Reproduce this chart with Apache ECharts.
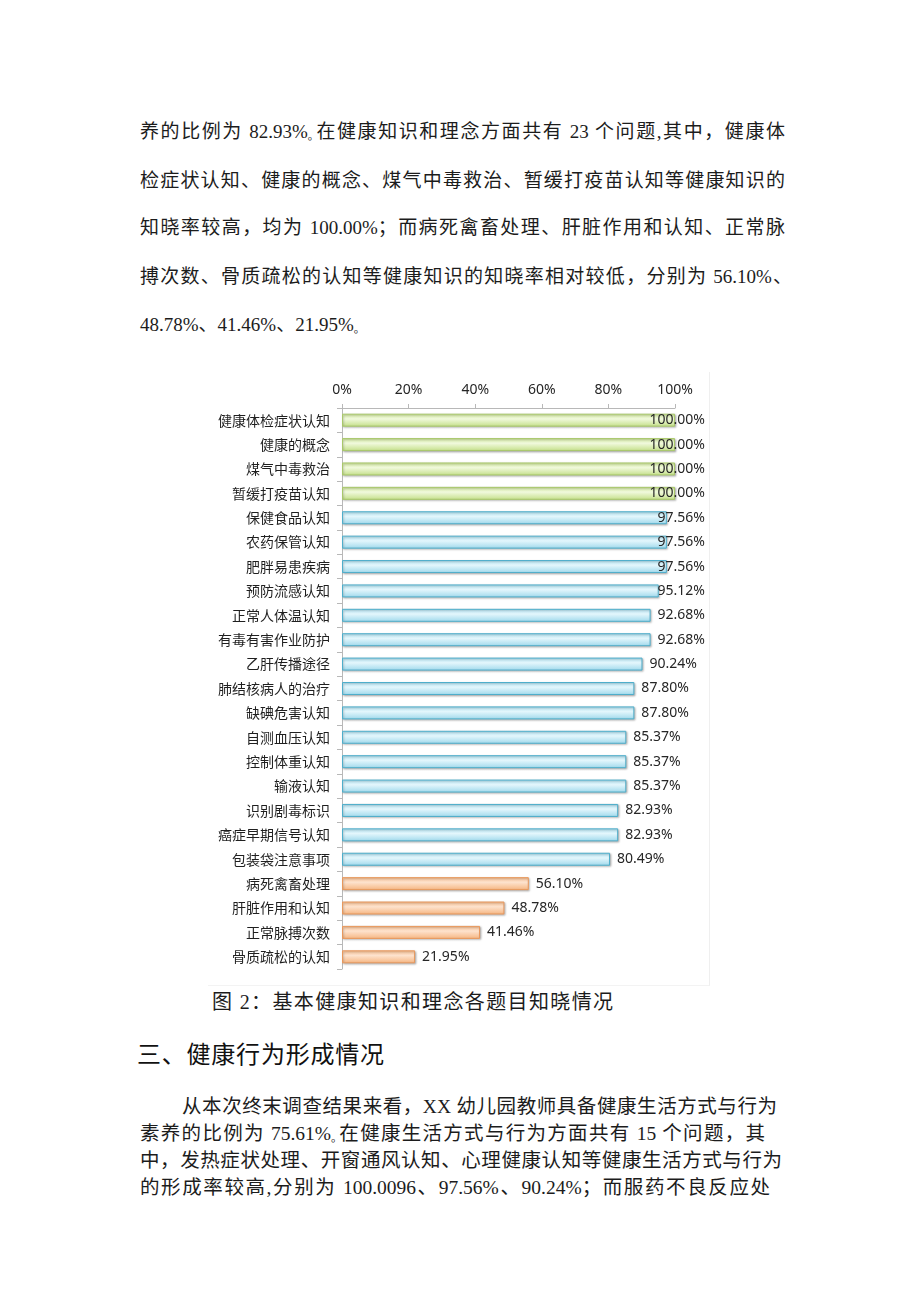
<!DOCTYPE html>
<html>
<head>
<meta charset="utf-8">
<script src="https://cdn.jsdelivr.net/npm/echarts@6/dist/echarts.min.js"></script>
<style>
  html, body { margin: 0; padding: 0; background: #ffffff; }
  body { width: 920px; height: 1301px; position: relative; overflow: hidden; }
  .ln {
    position: absolute; white-space: nowrap; color: #1c1c1c;
    font-family: "Liberation Serif", "Noto Sans CJK SC", serif;
    font-size: 19px; line-height: 28px; height: 28px;
    text-align: justify; text-align-last: justify;
  }
  .p2 { font-size: 19.5px; }
  .dot { font-size: 11px; display: inline-block; width: 7px; overflow: visible; vertical-align: -2px; }
  .head {
    position: absolute; left: 137px; top: 1037px; width: 247px; height: 32px; line-height: 32px;
    font-family: "Noto Sans CJK SC", sans-serif; font-size: 24px; color: #111;
    text-align: justify; text-align-last: justify; white-space: nowrap;
  }
  #chart { position: absolute; left: 208px; top: 372px; width: 502px; height: 614px;
           box-sizing: border-box; border-right: 1px solid #efefef; border-bottom: 1px solid #f3f3f3; }
</style>
</head>
<body>
<div class="ln" style="left:140px;top:118px;width:645px;">养的比例为 82.93%<span class="dot">。</span>在健康知识和理念方面共有 23 个问题,其中，健康体</div>
<div class="ln" style="left:140px;top:167px;width:645px;">检症状认知、健康的概念、煤气中毒救治、暂缓打疫苗认知等健康知识的</div>
<div class="ln" style="left:140px;top:214px;width:645px;">知晓率较高，均为 100.00%；而病死禽畜处理、肝脏作用和认知、正常脉</div>
<div class="ln" style="left:140px;top:263px;width:652px;">搏次数、骨质疏松的认知等健康知识的知晓率相对较低，分别为 56.10%、</div>
<div class="ln" style="left:140px;top:311px;text-align:left;text-align-last:left;">48.78%、41.46%、21.95%<span class="dot">。</span></div>

<div id="chart"></div>

<div class="ln" style="left:212px;top:988px;width:401px;font-size:20px;">图 2：基本健康知识和理念各题目知晓情况</div>

<div class="head">三、健康行为形成情况</div>

<div class="ln p2" style="left:182px;top:1093px;width:595px;">从本次终末调查结果来看，XX 幼儿园教师具备健康生活方式与行为</div>
<div class="ln p2" style="left:140px;top:1120px;width:625px;">素养的比例为 75.61%<span class="dot">。</span>在健康生活方式与行为方面共有 15 个问题，其</div>
<div class="ln p2" style="left:140px;top:1147px;width:642px;">中，发热症状处理、开窗通风认知、心理健康认知等健康生活方式与行为</div>
<div class="ln p2" style="left:140px;top:1174px;width:630px;">的形成率较高,分别为 100.0096、97.56%、90.24%；而服药不良反应处</div>

<script>
// ---- data ----
var categories = ['健康体检症状认知','健康的概念','煤气中毒救治','暂缓打疫苗认知','保健食品认知','农药保管认知','肥胖易患疾病','预防流感认知','正常人体温认知','有毒有害作业防护','乙肝传播途径','肺结核病人的治疗','缺碘危害认知','自测血压认知','控制体重认知','输液认知','识别剧毒标识','癌症早期信号认知','包装袋注意事项','病死禽畜处理','肝脏作用和认知','正常脉搏次数','骨质疏松的认知'];
var values = [100.00,100.00,100.00,100.00,97.56,97.56,97.56,95.12,92.68,92.68,90.24,87.80,87.80,85.37,85.37,85.37,82.93,82.93,80.49,56.10,48.78,41.46,21.95];
var groups = ['high','high','high','high','mid','mid','mid','mid','mid','mid','mid','mid','mid','mid','mid','mid','mid','mid','mid','low','low','low','low'];
var xTicks = [0, 20, 40, 60, 80, 100];

// ---- styles ----
function grad(a, b, c) {
  return new echarts.graphic.LinearGradient(0, 0, 0, 1, [
    {offset: 0, color: a}, {offset: 0.4, color: b}, {offset: 1, color: c}
  ]);
}
var styleByGroup = {
  high: {color: grad('#d3eaa0', '#f0f9dc', '#c4df88'), borderColor: '#a9c86a'},
  mid:  {color: grad('#b4e4f3', '#e3f6fc', '#9fd9ec'), borderColor: '#4eaecb'},
  low:  {color: grad('#f9c295', '#fde2cd', '#f6b580'), borderColor: '#e9985c'}
};

var chart = echarts.init(document.getElementById('chart'), null, {renderer: 'canvas'});
var W = 502;
var option = {
  animation: false,
  backgroundColor: '#ffffff',
  grid: {left: 134, right: 34, top: 36, bottom: 16},
  xAxis: {
    type: 'value', position: 'top', min: xTicks[0], max: xTicks[xTicks.length - 1], interval: 20,
    axisLine: {show: true, lineStyle: {color: '#b8b8b8', width: 1}},
    axisTick: {show: true, length: 4, lineStyle: {color: '#b8b8b8'}},
    splitLine: {show: false},
    axisLabel: {formatter: '{value}%', color: '#262626', fontSize: 14, margin: 11,
                fontFamily: 'Noto Sans, sans-serif'}
  },
  yAxis: {
    type: 'category', data: categories, inverse: true,
    axisLine: {show: true, lineStyle: {color: '#b8b8b8', width: 1}},
    axisTick: {show: true, length: 5, alignWithLabel: false, lineStyle: {color: '#b8b8b8'}},
    axisLabel: {color: '#1f1f1f', fontSize: 14, margin: 12,
                fontFamily: 'Noto Sans CJK SC, sans-serif'}
  },
  series: [{
    type: 'bar', barWidth: 13,
    data: values.map(function (v, i) {
      var s = styleByGroup[groups[i]];
      return {value: v, itemStyle: {color: s.color, borderColor: s.borderColor, borderWidth: 1,
        shadowColor: 'rgba(0,0,0,0.25)', shadowBlur: 2, shadowOffsetX: 1, shadowOffsetY: 1}};
    }),
    label: {
      show: true, position: 'right', distance: 7, color: '#262626', fontSize: 14,
      fontFamily: 'Noto Sans, sans-serif',
      formatter: function (p) { return p.value.toFixed(2) + '%'; }
    },
    labelLayout: function (p) {
      var r = p.labelRect;
      var limit = W - 5;
      if (r.x + r.width > limit) {
        return {x: limit - r.width, y: r.y + r.height / 2, align: 'left', verticalAlign: 'middle'};
      }
      return {};
    }
  }]
};
chart.setOption(option);
</script>
</body>
</html>
